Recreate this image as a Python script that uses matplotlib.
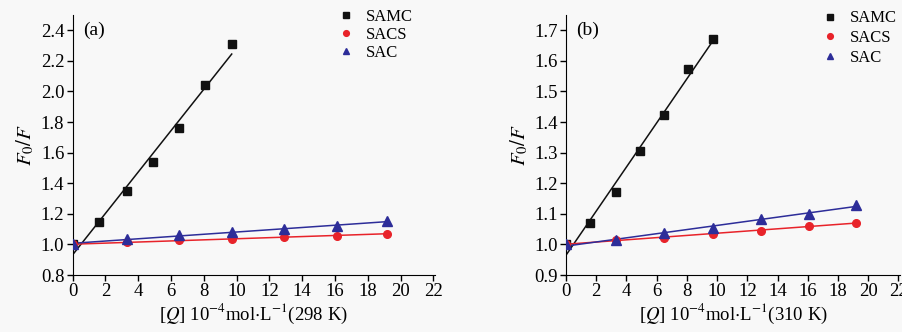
import numpy as np
import matplotlib
matplotlib.use("Agg")
import matplotlib.pyplot as plt

plt.rcParams['font.family'] = ['Liberation Serif', 'DejaVu Serif']
plt.rcParams['mathtext.fontset'] = 'stix'
plt.rcParams['font.size'] = 13

# concentrations, 10^-4 mol/L
q_samc = [0, 1.6, 3.3, 4.9, 6.5, 8.1, 9.7]
q_long = [0, 3.3, 6.5, 9.7, 12.9, 16.1, 19.2]

# (a) 298 K
samc_a = [1.0, 1.144, 1.351, 1.536, 1.76, 2.04, 2.31]
sacs_a = [1.0, 1.013, 1.026, 1.037, 1.048, 1.057, 1.07]
sac_a = [1.0, 1.037, 1.059, 1.083, 1.10, 1.122, 1.15]

# (b) 310 K
samc_b = [1.0, 1.07, 1.171, 1.305, 1.422, 1.573, 1.67]
sacs_b = [1.0, 1.016, 1.022, 1.034, 1.045, 1.061, 1.07]
sac_b = [1.0, 1.014, 1.038, 1.055, 1.082, 1.10, 1.13]

black = '#111111'
red = '#e8232a'
blue = '#2d2d99'


def fitline(ax, x, y, color):
    k, b = np.polyfit(x, y, 1)
    xs = np.array([min(x), max(x)])
    ax.plot(xs, k * xs + b, color=color, lw=1.1, zorder=2)


def panel(ax, samc, sacs, sac, letter, temp, ylim, yticks, anchor, spacing):
    fitline(ax, q_samc, samc, black)
    fitline(ax, q_long, sacs, red)
    fitline(ax, q_long, sac, blue)
    ax.plot(q_samc, samc, 's', color=black, ms=5.5, label='SAMC', zorder=3)
    ax.plot(q_long, sacs, 'o', color=red, ms=5.5, label='SACS', zorder=3)
    ax.plot(q_long, sac, '^', color=blue, ms=6.5, label='SAC', zorder=3)
    ax.set_xlim(0, 22.1)
    ax.set_ylim(*ylim)
    ax.set_xticks(range(0, 23, 2))
    ax.set_yticks(yticks)
    ax.set_yticklabels(['%.1f' % t for t in yticks])
    ax.spines['top'].set_visible(False)
    ax.spines['right'].set_visible(False)
    ax.tick_params(direction='out', length=4, width=1, labelsize=13.5, pad=2)
    ax.set_facecolor('none')
    ax.set_ylabel(r'$F_0/F$', labelpad=3, fontsize=15)
    ax.set_xlabel(r'[$Q$] 10$^{\mathrm{-4}}$mol$\cdot$L$^{\mathrm{-1}}$(' + temp + ')',
                  labelpad=1, fontsize=13.5)
    ax.text(0.03, 0.975, letter, transform=ax.transAxes, va='top', ha='left', fontsize=14)
    ax.legend(loc='upper right', bbox_to_anchor=anchor, frameon=False,
              handlelength=1.0, handletextpad=0.7, labelspacing=spacing,
              markerscale=0.75, fontsize=12)


fig = plt.figure(figsize=(9.03, 3.32), dpi=100, facecolor='#f8f8f8')
ax1 = fig.add_axes([72.7 / 903, 1 - 275 / 332, (435 - 72.7) / 903, 260 / 332])
ax2 = fig.add_axes([566 / 903, 1 - 275 / 332, (900 - 566) / 903, 260 / 332])

panel(ax1, samc_a, sacs_a, sac_a, '(a)', '298 K', (0.8, 2.5),
      [0.8, 1.0, 1.2, 1.4, 1.6, 1.8, 2.0, 2.2, 2.4], (0.98, 1.08), 0.12)
panel(ax2, samc_b, sacs_b, sac_b, '(b)', '310 K', (0.9, 1.75),
      [0.9, 1.0, 1.1, 1.2, 1.3, 1.4, 1.5, 1.6, 1.7], (1.035, 1.075), 0.22)

fig.savefig('out.png', dpi=100, facecolor=fig.get_facecolor())
